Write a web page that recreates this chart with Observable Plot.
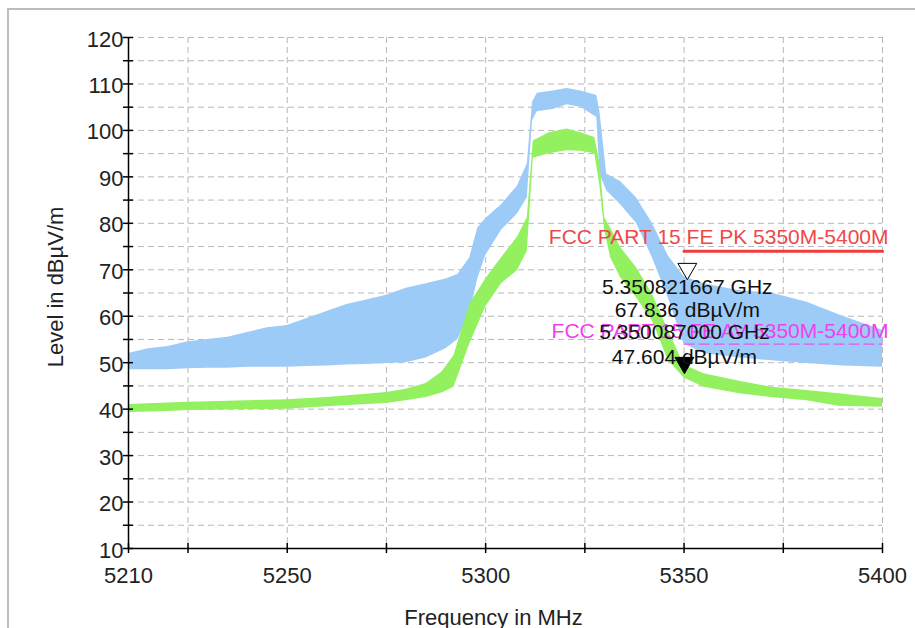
<!DOCTYPE html>
<html><head><meta charset="utf-8">
<script src="https://cdn.jsdelivr.net/npm/d3@7"></script>
<script src="https://cdn.jsdelivr.net/npm/@observablehq/plot@0.6"></script>
<style>
html,body{margin:0;padding:0;background:#fff;}
#wrap{position:relative;width:915px;height:628px;overflow:hidden;}
#border{position:absolute;left:7px;top:8px;width:940px;height:660px;border-left:2px solid #bdbdbd;border-top:2px solid #bdbdbd;pointer-events:none;}
</style></head><body>
<div id="wrap"><div id="chart"></div><div id="border"></div></div>
<script>
// Peak trace (blue) envelope, MHz / dBµV/m
const blueFreq = [5210,5215,5220,5225,5230,5235,5240,5245,5250,5255,5260,5265,5270,5275,5280,5285,5290,5293,5296,5298,5300,5304,5308,5310.5,5311.8,5313,5317,5320.5,5324,5328,5328.8,5330.5,5334,5338,5342,5346,5350,5355,5364,5372,5381,5390,5400];
const blueLow  = [48.5,48.5,48.5,48.7,48.8,48.8,49,49,49,49.2,49.3,49.5,49.6,49.8,50,51,53,55,60.5,68,73,78.5,82,85.5,102,104,104.5,105.5,105,102.8,90.6,87,84,80,72.6,64,54,52,51,50.4,49.8,49.3,49];
const blueHigh = [52,53,53.5,54.5,55,55.5,56.5,57.5,58,59.5,61,62.5,63.5,64.5,66,67,68,69,72.6,79,81,84,88,92.8,106,108,108.5,109,108.5,107.5,104,90.6,89,85.5,80,73,68.5,67,65.5,65,63,60,57];
// Average trace (green) envelope
const greenFreq = [5210,5220,5225,5235,5250,5260,5270,5275,5280,5285,5289,5292,5296,5300,5304,5308,5310.5,5312,5316,5320.5,5324,5327.5,5328.8,5330,5331.5,5334,5338,5342,5346,5350,5355,5364,5372,5381,5389,5400];
const greenLow  = [39.3,39.5,39.7,39.8,40,40.5,41,41.2,41.8,42.5,43.5,44.7,54,62,67,69.8,74,94,95,95.6,95.5,95,88,78.4,72.6,68.3,64,59,50.5,46.7,44.7,43.3,42.5,41.8,40.6,40.4];
const greenHigh = [41,41.3,41.5,41.7,42,42.5,43.2,43.6,44.3,45.5,48,51.5,62.6,68,72.6,77,81.2,97.7,99.5,100.3,99.5,98.5,93,81.2,79,74.8,70.5,64.8,57,49.5,47.6,46,44.7,44,43.3,42.3];
// Limit lines
const limitFreq = [5350, 5400];
const pkLimit = 74;
const avLimit = 54;
const pkLimitName = "FCC PART 15 FE PK 5350M-5400M";
const avLimitName = "FCC PART 15 FE AV 5350M-5400M";
// Markers
const markerFreqGHz = [5.350821667, 5.350087000];
const markerLevel = [67.836, 47.604];
// Axes
const xDomain = [5210, 5400];
const yDomain = [10, 120];
const xLabelTicks = [5210, 5250, 5300, 5350, 5400];
const xMinorTicks = [5225, 5275, 5325, 5375];
const xGrid = [5225, 5250, 5275, 5300, 5325, 5350, 5375, 5400];
const yLabelTicks = [10,20,30,40,50,60,70,80,90,100,110,120];
const yMinorTicks = [15,25,35,45,55,65,75,85,95,105,115];
const yGrid = [15,20,25,30,35,40,45,50,55,60,65,70,75,80,85,90,95,100,105,110,115,120];
const xTitle = "Frequency in MHz";
const yTitle = "Level in dBµV/m";

const blue = blueFreq.map((f,i)=>({f, lo: blueLow[i], hi: blueHigh[i]}));
const green = greenFreq.map((f,i)=>({f, lo: greenLow[i], hi: greenHigh[i]}));
const pkLine = limitFreq.map(f=>({f, v: pkLimit}));
const avLine = limitFreq.map(f=>({f, v: avLimit}));
const markers = markerFreqGHz.map((g,i)=>({f: g*1000, v: markerLevel[i], label: g.toFixed(9) + " GHz\n" + markerLevel[i].toFixed(3) + " dBµV/m"}));

const W = 915, H = 628, mL = 128, mR = 33, mT = 37, mB = 80;
const pw = W - mL - mR, ph = H - mT - mB;
const FS = 21, TFS = 22;
const font = "'Liberation Sans', Arial, sans-serif";

const chart = Plot.plot({
  width: W, height: H,
  marginLeft: mL, marginRight: mR, marginTop: mT, marginBottom: mB,
  style: {fontFamily: font, fontSize: FS + "px", background: "white", color: "#222"},
  x: {domain: xDomain, label: null},
  y: {domain: yDomain, label: null},
  marks: [
    Plot.gridY(yGrid, {stroke: "#b8b8b8", strokeOpacity: 1, strokeDasharray: "6,4"}),
    Plot.gridX(xGrid, {stroke: "#b8b8b8", strokeOpacity: 1, strokeDasharray: "6,4"}),
    Plot.areaY(blue, {x: "f", y1: "lo", y2: "hi", fill: "#9dcbf8"}),
    Plot.areaY(green, {x: "f", y1: "lo", y2: "hi", fill: "#93f05f"}),
    Plot.line(pkLine, {x: "f", y: "v", stroke: "#f03c3c", strokeWidth: 3}),
    Plot.line(avLine, {x: "f", y: "v", stroke: "#f050f0", strokeWidth: 1.3, strokeDasharray: "10,5"}),
    Plot.text([pkLimitName], {x: limitFreq[1], y: pkLimit, text: d => d, textAnchor: "end", dx: 6, dy: -14, fill: "#f04848", fontSize: FS}),
    Plot.text([avLimitName], {x: limitFreq[1], y: avLimit, text: d => d, textAnchor: "end", dx: 6, dy: -13, fill: "#f040f0", fontSize: FS}),
    Plot.dot([markers[0]], {x: "f", y: "v", symbol: "triangle", rotate: 180, r: 7, dy: -11, stroke: "black", strokeWidth: 1, fill: "white"}),
    Plot.dot([markers[1]], {x: "f", y: "v", symbol: "triangle", rotate: 180, r: 7, dy: -11, stroke: "black", strokeWidth: 1, fill: "black"}),
    Plot.text([markers[0]], {x: "f", y: "v", text: "label", lineAnchor: "top", lineHeight: 1.1, dy: -2, fill: "#111", fontSize: FS}),
    Plot.text([markers[1]], {x: "f", y: "v", text: "label", lineAnchor: "bottom", lineHeight: 1.2, dy: -10, fill: "#111", fontSize: FS}),
    Plot.ruleX([xLabelTicks[0]], {stroke: "black", strokeWidth: 1.5}),
    Plot.ruleY([yLabelTicks[0]], {stroke: "black", strokeWidth: 1.5}),
    Plot.ruleX(xLabelTicks.concat(xMinorTicks), {stroke: "black", strokeWidth: 1.5, insetTop: ph - 5, insetBottom: -5}),
    Plot.ruleY(yLabelTicks.concat(yMinorTicks), {stroke: "black", strokeWidth: 1.5, insetLeft: -5, insetRight: pw - 5}),
    Plot.axisX(xLabelTicks, {tickSize: 0, tickPadding: 19, tickFormat: d => String(d), fontSize: TFS, label: null}),
    Plot.axisY(yLabelTicks, {tickSize: 0, tickPadding: 5, dy: 2, tickFormat: d => String(d), fontSize: TFS, label: null}),
    Plot.text([xTitle], {frameAnchor: "bottom", text: d => d, textAnchor: "middle", lineAnchor: "middle", dx: -12, dy: 69, fontSize: TFS, fill: "#222"}),
    Plot.text([yTitle], {frameAnchor: "left", text: d => d, textAnchor: "middle", lineAnchor: "middle", rotate: -90, dx: -73, dy: -6, fontSize: TFS, fill: "#222"})
  ]
});
document.getElementById("chart").appendChild(chart);
</script>
</body></html>
